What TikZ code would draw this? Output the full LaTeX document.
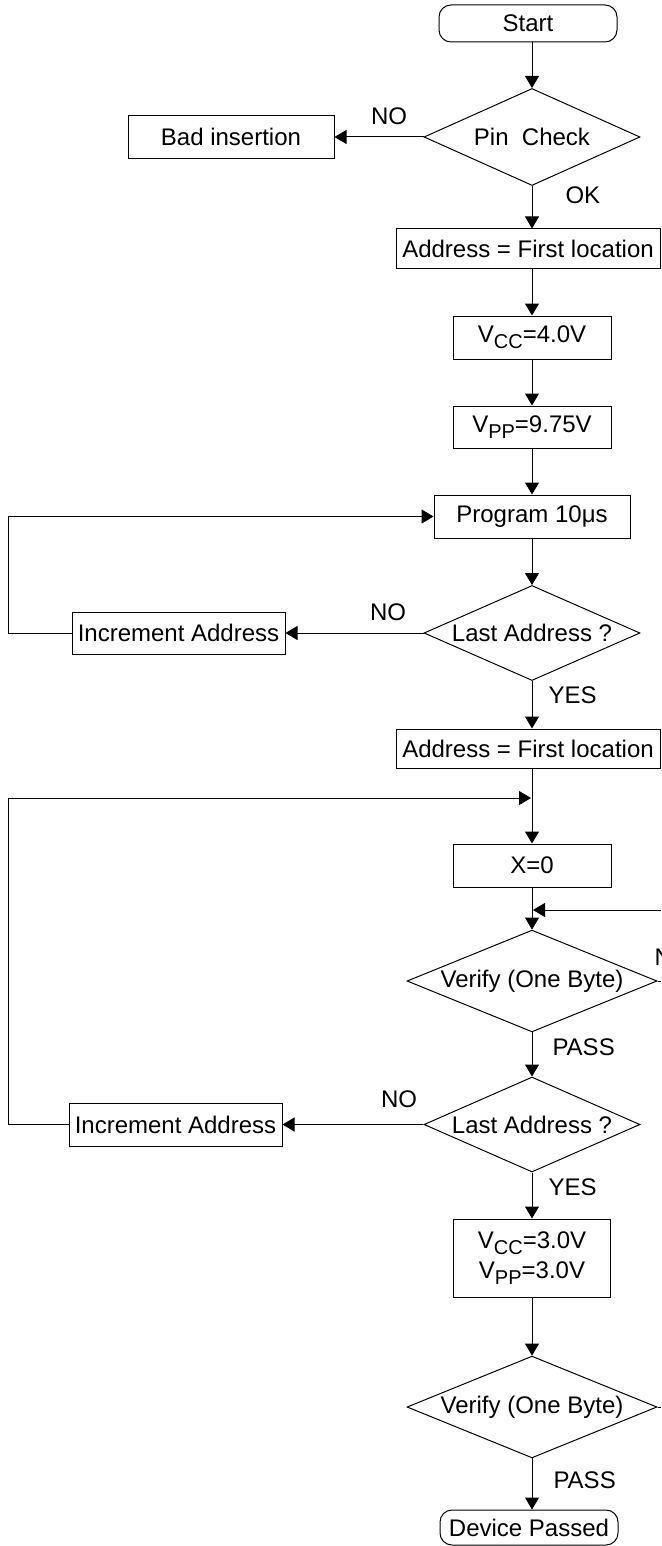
\documentclass[tikz,border=0pt]{standalone}
\usepackage{fontspec}
\setmainfont{Liberation Sans}
\usetikzlibrary{shapes.geometric,arrows.meta}
\newcommand{\lowsub}[1]{\raisebox{-2.8pt}{\fontsize{10}{10}\selectfont #1}}

\begin{document}
\begin{tikzpicture}[x = 0.5pt, y = -0.5pt, line width = 0.5pt,
                    font = \fontsize{12}{14}\selectfont,
                    > = {Triangle[length = 6pt, width = 7pt]},
                    box/.style = {rectangle, draw, inner sep = 0pt},
                    term/.style = {rectangle, draw, rounded corners = 6pt, inner sep = 0pt,
                                   minimum width = 89pt, minimum height = 18.5pt},
                    decision/.style = {diamond, draw, inner sep = 0pt, aspect = 2.3},
                    lbl/.style = {inner sep = 0pt}]
    \useasboundingbox (0, 0) rectangle (661, 1546);
    \coordinate (lft) at (8, 0);
    \coordinate (rgt) at (661, 0);
    \coordinate (j2) at (531, 798);
    \coordinate (j3) at (533, 910);

    \node [term] (start) at (528, 23.5){Start};
    \node [decision, minimum width = 108pt, minimum height = 48.5pt] (pin) at (532, 137){Pin~~Check};
    \node [box, minimum width = 103pt, minimum height = 21.5pt] (bad) at (231, 137){Bad insertion};
    \node [box, minimum width = 132pt, minimum height = 19.5pt] (addr1) at (528, 248.5){Address = First location};
    \node [box, minimum width = 79pt, minimum height = 21.5pt] (vcc1) at (532, 337.5){V\lowsub{CC}=4.0V};
    \node [box, minimum width = 79pt, minimum height = 21pt] (vpp1) at (532, 427){V\lowsub{PP}=9.75V};
    \node [box, minimum width = 98pt, minimum height = 21.5pt] (prog) at (532, 516.5){Program 10μs};
    \node [decision, minimum width = 108pt, minimum height = 47.5pt] (last1) at (532, 633){Last Address ?};
    \node [box, minimum width = 106.5pt, minimum height = 21pt] (inc1) at (178.5, 633){Increment Address};
    \node [box, minimum width = 132pt, minimum height = 19.5pt] (addr2) at (528, 748.5){Address = First location};
    \node [box, minimum width = 79pt, minimum height = 21.5pt] (x0) at (532, 865.5){X=0};
    \node [decision, minimum width = 125pt, minimum height = 49pt] (ver1) at (532, 981){Verify (One Byte)};
    \node [decision, minimum width = 108pt, minimum height = 47.5pt] (last2) at (532, 1124.5){Last Address ?};
    \node [box, minimum width = 106.5pt, minimum height = 21.5pt] (inc2) at (175.5, 1124.5){Increment Address};
    \node [box, minimum width = 78.5pt, minimum height = 39pt, align = center] (vcc2) at (532, 1258)
          {V\lowsub{CC}=3.0V\\[1pt]V\lowsub{PP}=3.0V};
    \node [decision, minimum width = 125pt, minimum height = 48pt] (ver2) at (532, 1407){Verify (One Byte)};
    \node [term, minimum height = 17.5pt] (done) at (529, 1527.5){Device Passed};

    % branch labels
    \node [lbl] (no1) at (389, 116){NO};
    \node [lbl, anchor = west] (ok) at (565, 195){OK};
    \node [lbl] (no2) at (388, 612){NO};
    \node [lbl, anchor = west] (yes1) at (548, 695){YES};
    \node [lbl, anchor = west] (no3) at (654, 957){NO};
    \node [lbl, anchor = west] (pass1) at (552, 1047){PASS};
    \node [lbl] (no4) at (399, 1099){NO};
    \node [lbl, anchor = west] (yes2) at (548, 1187){YES};
    \node [lbl, anchor = west] (pass2) at (553, 1480){PASS};

    \draw [->] (start.south -| pin) -- (pin);
    \draw [->] (pin) -- (bad);
    \draw [->] (pin) -- (addr1.north -| pin);
    \draw [->] (addr1.south -| vcc1) -- (vcc1);
    \draw [->] (vcc1) -- (vpp1);
    \draw [->] (vpp1) -- (prog);
    \draw [->] (prog) -- (last1);
    \draw [->] (last1) -- (inc1);
    \draw [->] (inc1.west) -- (inc1.west -| lft) |- (prog.west);
    \draw [->] (last1) -- (addr2.north -| last1);
    \draw [->] (addr2.south -| x0) -- (x0);
    \draw [->] (inc2.west) -- (inc2.west -| lft) |- (j2);
    \draw [->] (x0) -- (ver1);
    \draw [->] (j3 -| rgt) -- (j3);
    \draw (ver1.east) -- (ver1.east -| rgt);
    \draw [->] (ver1) -- (last2);
    \draw [->] (last2) -- (inc2);
    \draw [->] (last2) -- (vcc2);
    \draw [->] (vcc2) -- (ver2);
    \draw (ver2.east) -- (ver2.east -| rgt);
    \draw [->] (ver2) -- (done.north -| ver2);
    \end{tikzpicture}
\end{document}
